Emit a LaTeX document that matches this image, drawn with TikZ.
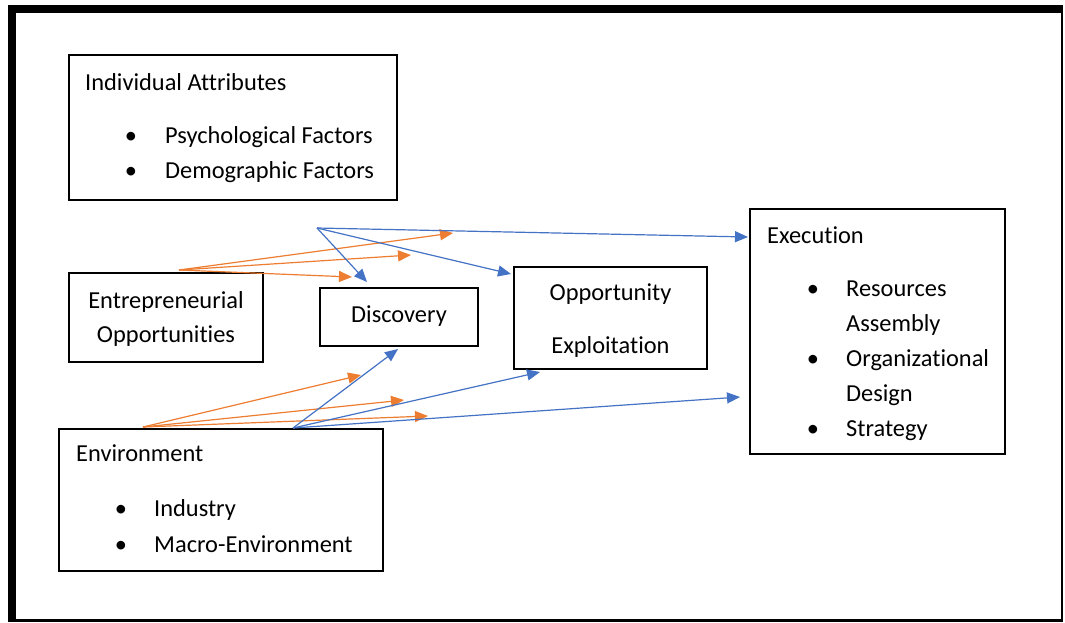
\documentclass[tikz,border=0pt]{standalone}
\usepackage{fontspec}
\setmainfont{Carlito}[Ligatures=NoCommon]
\usetikzlibrary{arrows.meta}
\definecolor{orangeA}{HTML}{ED7D31}
\definecolor{blueA}{HTML}{4472C4}
\begin{document}
\begin{tikzpicture}[x=1pt,y=-1pt,
  box/.style={draw=black,line width=1.8pt,inner sep=0pt,fill=none},
  txt/.style={inner sep=0pt,font=\fontsize{24.4}{28}\selectfont},
  lt/.style={txt,anchor=base west},
  ct/.style={txt,anchor=base},
  oarr/.style={draw=orangeA,line width=1.2pt,-{Triangle[length=13pt,width=11pt]}},
  barr/.style={draw=blueA,line width=1.2pt,-{Triangle[length=13pt,width=11pt]}}]
\useasboundingbox (0,0) rectangle (1065,622);
\fill[white] (0,0) rectangle (1065,622);
% outer frame
\fill[black] (8,5) rectangle (1063,13);
\fill[black] (8,5) rectangle (15.5,622);
\fill[black] (8,619) rectangle (1063,622);
\fill[black] (1060.5,5) rectangle (1062.5,622);

% boxes
\node[box,minimum width=328pt,minimum height=145pt] (ia) at (233,127.5) {};
\node[box,minimum width=194pt,minimum height=89pt] (eo) at (166,317.5) {};
\node[box,minimum width=158pt,minimum height=58pt] (disc) at (399,317) {};
\node[box,minimum width=193pt,minimum height=102pt] (oe) at (610.5,318) {};
\node[box,minimum width=255pt,minimum height=245pt] (ex) at (877.5,331.5) {};
\node[box,minimum width=324pt,minimum height=142pt] (env) at (221,500) {};

% texts
\node[lt] (iaT) at (85,90) {Individual Attributes};
\node[ct] (iaB1) at (131,143) {\textbullet};
\node[lt] (iaL1) at (165,143) {Psychological Factors};
\node[ct] (iaB2) at (131,178) {\textbullet};
\node[lt] (iaL2) at (165,178) {Demographic Factors};

\node[ct] (eoT1) at (166,308) {Entrepreneurial};
\node[ct] (eoT2) at (166,342) {Opportunities};

\node[ct] (discT) at (399,322) {Discovery};

\node[ct] (oeT1) at (610.5,300) {Opportunity};
\node[ct] (oeT2) at (610.5,353) {Exploitation};

\node[lt] (exT) at (767,243) {Execution};
\node[ct] (exB1) at (813,296) {\textbullet};
\node[lt] (exL1) at (846,296) {Resources};
\node[lt] (exL1b) at (846,331) {Assembly};
\node[ct] (exB2) at (813,366) {\textbullet};
\node[lt] (exL2) at (846,366) {Organizational};
\node[lt] (exL2b) at (846,401) {Design};
\node[ct] (exB3) at (813,436) {\textbullet};
\node[lt] (exL3) at (846,436) {Strategy};

\node[lt] (envT) at (76,461) {Environment};
\node[ct] (envB1) at (121,516) {\textbullet};
\node[lt] (envL1) at (154,516) {Industry};
\node[ct] (envB2) at (121,552) {\textbullet};
\node[lt] (envL2) at (154,552) {Macro-Environment};

% connector coordinates
\coordinate (eoS) at (179,270);
\coordinate (o1) at (453,233);
\coordinate (o2) at (411,255);
\coordinate (o3) at (352,277);
\coordinate (bS) at (317,228);
\coordinate (bEx) at (748,237);
\coordinate (bDi) at (367,282);
\coordinate (bOe) at (511,274);
\coordinate (envO) at (143,427);
\coordinate (eo1) at (361,375);
\coordinate (eo2) at (404,400);
\coordinate (eo3) at (428,416);
\coordinate (envB) at (293,428);
\coordinate (eb1) at (398,349);
\coordinate (eb2) at (540,372);
\coordinate (eb3) at (740,397);

% arrows
\draw[oarr] (eoS) -- (o1);
\draw[oarr] (eoS) -- (o2);
\draw[oarr] (eoS) -- (o3);
\draw[barr] (bS) -- (bEx);
\draw[barr] (bS) -- (bDi);
\draw[barr] (bS) -- (bOe);
\draw[oarr] (envO) -- (eo1);
\draw[oarr] (envO) -- (eo2);
\draw[oarr] (envO) -- (eo3);
\draw[barr] (envB) -- (eb1);
\draw[barr] (envB) -- (eb2);
\draw[barr] (envB) -- (eb3);
\end{tikzpicture}
\end{document}
